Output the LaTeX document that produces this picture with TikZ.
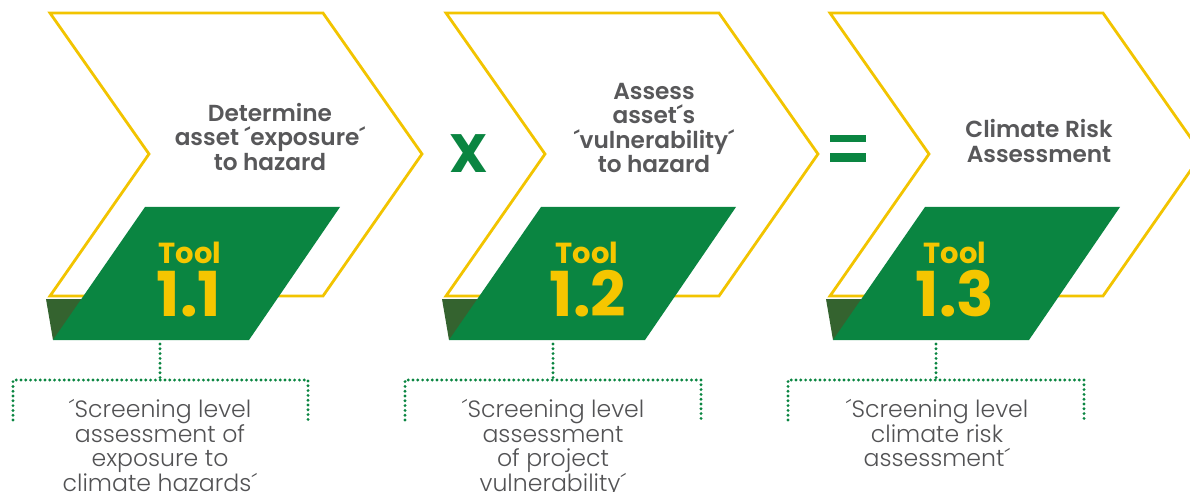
\documentclass[tikz,border=0pt]{standalone}
\usepackage{fontspec}
\setmainfont{Poppins}
\newfontfamily\lightfont{Poppins Light}
\newfontfamily\semifont{Poppins SemiBold}
\definecolor{chevyellow}{HTML}{F2C400}
\definecolor{toolyellow}{HTML}{F5C600}
\definecolor{toolgreen}{HTML}{0A8541}
\definecolor{folddark}{HTML}{34632F}
\definecolor{headgray}{HTML}{58585A}
\definecolor{notegray}{HTML}{525254}

\begin{document}
\begin{tikzpicture}[x=0.5pt, y=-0.5pt,
        chev/.style={draw=chevyellow, line width=1.4pt, fill=white, line join=miter},
        tag/.style={fill=toolgreen},
        fold/.style={fill=folddark},
        headtext/.style={text=headgray, align=center, inner sep=0pt,
            font=\semifont\fontsize{11.6}{12.25}\selectfont},
        tooltext/.style={text=toolyellow, inner sep=0pt, font=\bfseries\fontsize{14.5}{14.5}\selectfont},
        numtext/.style={text=toolyellow, inner sep=0pt, font=\bfseries\fontsize{31}{31}\selectfont},
        signtext/.style={text=toolgreen, inner sep=0pt, font=\bfseries\fontsize{27}{27}\selectfont},
        notetext/.style={text=notegray, align=center, inner sep=0pt, anchor=north,
            font=\lightfont\fontsize{11.8}{12.25}\selectfont},
        dots/.style={draw=toolgreen, line width=1.6pt, dash pattern=on 0pt off 2.4pt, line cap=round}]
        \useasboundingbox (0, 0) rectangle (1190, 492);
        % step 1: exposure
        \draw [chev] (50, 13) -- (323, 13) -- (422, 154) -- (323, 296) -- (50, 296) -- (149, 154) -- cycle;
        \fill [fold] (46, 299) -- (100, 299) -- (53, 340) -- cycle;
        \fill [tag] (145, 207) -- (340, 207) -- (249, 340) -- (53, 340) -- cycle;
        \node [headtext] (head1) at (270, 137) {Determine\\asset ´exposure´\\to hazard};
        \node [tooltext] (tool1) at (190, 253) {Tool};
        \node [numtext] (num1) at (189, 294) {1.1};
        % step 2: vulnerability
        \draw [chev] (446, 13) -- (719, 13) -- (818, 154) -- (719, 296) -- (446, 296) -- (545, 154) -- cycle;
        \fill [fold] (442, 299) -- (496, 299) -- (449, 340) -- cycle;
        \fill [tag] (541, 207) -- (736, 207) -- (645, 340) -- (449, 340) -- cycle;
        \node [headtext] (head2) at (654, 128) {Assess\\asset´s\\´vulnerability´\\to hazard};
        \node [tooltext] (tool2) at (587, 253) {Tool};
        \node [numtext] (num2) at (588, 294) {1.2};
        % step 3: risk
        \draw [chev] (830, 13) -- (1103, 13) -- (1202, 154) -- (1103, 296) -- (830, 296) -- (929, 154) -- cycle;
        \fill [fold] (826, 299) -- (880, 299) -- (833, 340) -- cycle;
        \fill [tag] (925, 207) -- (1120, 207) -- (1029, 340) -- (833, 340) -- cycle;
        \node [headtext] (head3) at (1039, 141) {Climate Risk\\Assessment};
        \node [tooltext] (tool3) at (955, 253) {Tool};
        \node [numtext] (num3) at (955, 294) {1.3};
        % operators
        \node [signtext] (times) at (469, 154) {X};
        \fill [toolgreen] (830, 135) rectangle (866, 142);
        \fill [toolgreen] (830, 153) rectangle (866, 162);
        % brackets
        \coordinate (top1) at (160, 344);
        \coordinate (mid1) at (160, 380);
        \coordinate (lt1) at (13, 380);
        \coordinate (rt1) at (308, 380);
        \draw [dots] (top1) -- (mid1);
        \draw [dots] (lt1 |- 0, 420) -- (lt1) -- (rt1) -- (rt1 |- 0, 420);
        \coordinate (top2) at (553, 344);
        \coordinate (mid2) at (553, 380);
        \coordinate (lt2) at (405, 380);
        \coordinate (rt2) at (701, 380);
        \draw [dots] (top2) -- (mid2);
        \draw [dots] (lt2 |- 0, 420) -- (lt2) -- (rt2) -- (rt2 |- 0, 420);
        \coordinate (top3) at (936, 344);
        \coordinate (mid3) at (936, 380);
        \coordinate (lt3) at (788, 380);
        \coordinate (rt3) at (1084, 380);
        \draw [dots] (top3) -- (mid3);
        \draw [dots] (lt3 |- 0, 420) -- (lt3) -- (rt3) -- (rt3 |- 0, 420);
        % notes
        \node [notetext] (note1) at (160, 399) {´Screening level\\assessment of\\exposure to\\climate hazards´};
        \node [notetext] (note2) at (553, 399) {´Screening level\\assessment\\of project\\vulnerability´};
        \node [notetext] (note3) at (937, 399) {´Screening level\\climate risk\\assessment´};
    \end{tikzpicture}
\end{document}
